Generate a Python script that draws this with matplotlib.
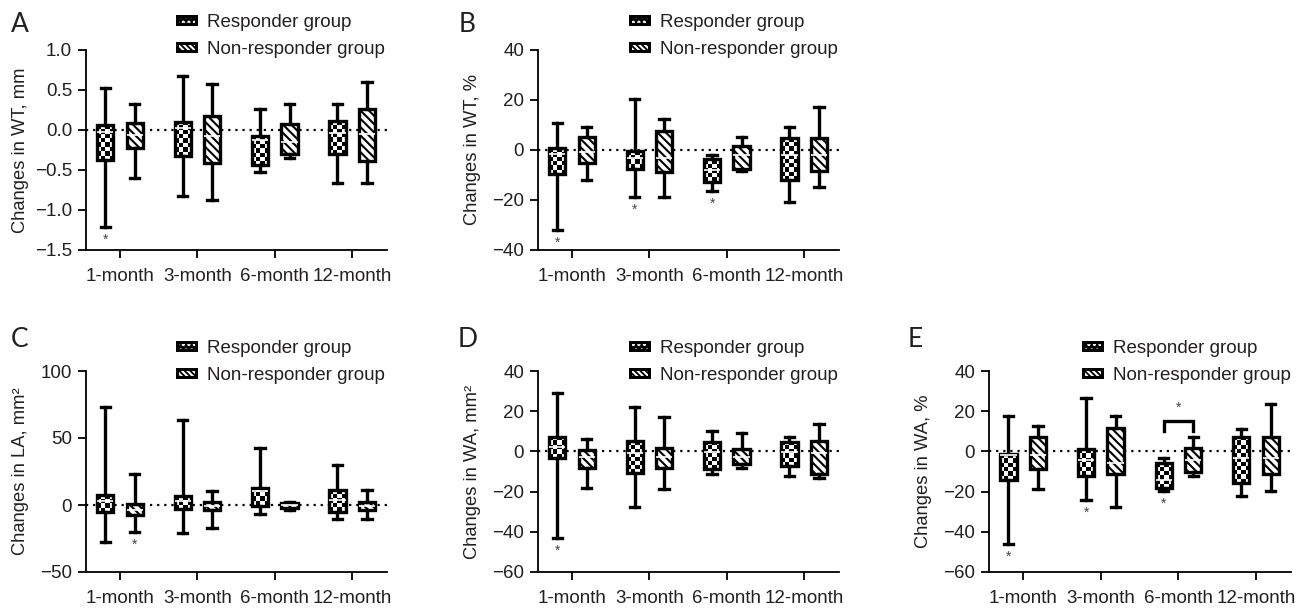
import numpy as np
import matplotlib
matplotlib.use("Agg")
import matplotlib.pyplot as plt
from matplotlib.patches import Patch, Rectangle
from matplotlib.legend_handler import HandlerBase

months = ["1-month", "3-month", "6-month", "12-month"]
group_names = ["Responder group", "Non-responder group"]

# each row: (lower whisker, Q1, median, Q3, upper whisker), one row per month
wt_mm_resp = [(-1.21, -0.375, -0.02, 0.06, 0.52), (-0.82, -0.33, 0.03, 0.10, 0.68),
              (-0.53, -0.44, -0.12, -0.08, 0.26), (-0.66, -0.30, -0.04, 0.11, 0.32)]
wt_mm_non = [(-0.60, -0.22, -0.06, 0.09, 0.32), (-0.88, -0.41, -0.08, 0.17, 0.57),
             (-0.35, -0.30, -0.15, 0.075, 0.32), (-0.66, -0.39, -0.05, 0.26, 0.60)]

wt_pct_resp = [(-32, -9.6, -1.5, 0.7, 10.9), (-19, -7.7, -3.3, -0.4, 20.3),
               (-16.3, -12.7, -8, -3.6, -2), (-21, -12, -2, 4.7, 9.1)]
wt_pct_non = [(-12, -5.3, -0.7, 5.1, 9.1), (-19, -8.9, -3.3, 7.7, 12.3),
              (-8.3, -7.6, -2, 1.7, 5.3), (-15, -8.3, -2, 4.7, 17.1)]

la_resp = [(-27.6, -5.2, 2.8, 7.3, 73.3), (-20.6, -2.7, 2.8, 6.6, 63.4),
           (-6.4, -0.9, 10.5, 12.8, 42.2), (-10.6, -5.2, 3.6, 11.5, 29.7)]
la_non = [(-20.1, -7.6, -3.4, 0.6, 23.5), (-17.1, -3.9, -0.9, 2.3, 10.5),
          (-3.4, -1.9, -0.2, 1.8, 2.3), (-10.1, -3.9, -0.7, 2.3, 11.5)]

wa_mm_resp = [(-43, -3.5, 2, 7.3, 28.9), (-27.6, -10.7, -1, 5.1, 21.9),
              (-11.3, -8.8, -0.2, 4.8, 10.1), (-12.3, -7.2, -0.2, 4.8, 7.3)]
wa_mm_non = [(-18.1, -8.2, -2.7, 0.6, 6.4), (-18.8, -8.5, -2.7, 1.5, 17.2),
             (-8.2, -6.5, -2.7, 1.1, 9.4), (-13.2, -11, -1, 5.1, 13.4)]

wa_pct_resp = [(-46.2, -14, -2, -1.4, 17.6), (-24.3, -12.2, -4.4, 1.1, 26.7),
               (-19.6, -18.1, -14.3, -6, -3.2), (-22.3, -15.6, -3.5, 7.3, 10.9)]
wa_pct_non = [(-18.5, -9, -1.9, 7.3, 12.8), (-27.6, -11.3, -6, 11.4, 17.6),
              (-12.3, -10.2, -4.4, 1.8, 7), (-19.6, -11.3, -3.2, 7.3, 23.6)]

# significance marks: (month index, group index 0=responder 1=non-responder)
stars_a = [(0, 0)]
stars_b = [(0, 0), (1, 0), (2, 0)]
stars_c = [(0, 1)]
stars_d = [(0, 0)]
stars_e = [(0, 0), (1, 0), (2, 0)]

TEXT = "#231f20"
W, H = 1311, 608
plt.rcParams["font.family"] = ["Liberation Sans", "DejaVu Sans"]
plt.rcParams["hatch.linewidth"] = 1.5
plt.rcParams["text.color"] = TEXT

fig = plt.figure(figsize=(W / 100, H / 100), dpi=100)

OFFSET = 0.19
BOX_W = 0.21
LW = 2.4


def add_checker(ax, box, square_px=4.2):
    verts = box.get_path().vertices
    x0, x1 = verts[:, 0].min(), verts[:, 0].max()
    y0, y1 = verts[:, 1].min(), verts[:, 1].max()
    p0 = ax.transData.transform((x0, y0))
    p1 = ax.transData.transform((x1, y1))
    nx = max(1, int(round(abs(p1[0] - p0[0]) / square_px)))
    ny = max(1, int(round(abs(p1[1] - p0[1]) / square_px)))
    grid = np.add.outer(np.arange(ny), np.arange(nx)) % 2
    im = ax.imshow(grid, cmap="gray", vmin=0, vmax=1, extent=(x0, x1, y0, y1),
                   origin="upper", aspect="auto", interpolation="nearest", zorder=2.5)
    im.set_clip_path(box)


def draw_group(ax, data, positions, responder):
    stats = [dict(whislo=d[0], q1=d[1], med=d[2], q3=d[3], whishi=d[4], fliers=[])
             for d in data]
    bp = ax.bxp(stats, positions=positions, widths=BOX_W, capwidths=0.12,
                patch_artist=True, showfliers=False, manage_ticks=False, zorder=3,
                boxprops=dict(facecolor="none" if responder else "white",
                              edgecolor="black", linewidth=LW,
                              hatch=None if responder else "\\\\\\\\"),
                whiskerprops=dict(color="black", linewidth=LW),
                capprops=dict(color="black", linewidth=LW),
                medianprops=dict(color="white", linewidth=1.2))
    if responder:
        for box in bp["boxes"]:
            add_checker(ax, box)
    return bp


class BoxKey(HandlerBase):
    def create_artists(self, legend, orig_handle, xdescent, ydescent,
                       width, height, fontsize, trans):
        outer = Rectangle((-xdescent, -ydescent), width, height, facecolor="black",
                          edgecolor="none", transform=trans)
        inner = Rectangle((-xdescent + 2.2, -ydescent + 2.0), width - 4.4, height - 4.0,
                          facecolor="none", edgecolor="white", linewidth=0,
                          hatch=orig_handle.get_hatch(), transform=trans)
        return [outer, inner]


def make_panel(rect, letter, letter_xy, resp, non, ylabel, ylim, yticks, stars,
               legend_xy, bracket=False):
    left, right, top, bottom = rect
    ax = fig.add_axes([left / W, 1 - bottom / H, (right - left) / W, (bottom - top) / H])
    x_pos = np.arange(len(months))
    ax.set_xlim(-0.44, 3.45)
    ax.set_ylim(*ylim)
    ax.axhline(0, color="black", linestyle=(0, (1, 2.2)), linewidth=1.6, zorder=1)

    draw_group(ax, resp, x_pos - OFFSET, True)
    draw_group(ax, non, x_pos + OFFSET, False)

    span = ylim[1] - ylim[0]
    groups = [resp, non]
    for m, g in stars:
        low = groups[g][m][0]
        ax.text(x_pos[m] + (OFFSET if g else -OFFSET), low - 0.028 * span, "*",
                ha="center", va="top", fontsize=10, color="#444444")

    if bracket:
        m = 2
        y_top = max(resp[m][4], non[m][4]) + 8.0
        y_low = y_top - 5.0
        ax.plot([m - OFFSET, m - OFFSET, m + OFFSET, m + OFFSET],
                [y_low, y_top, y_top, y_low], color="black", linewidth=LW,
                solid_joinstyle="miter", zorder=3)
        ax.text(m, y_top + 3.0, "*", ha="center", va="bottom", fontsize=10,
                color="#444444")

    for side in ["top", "right"]:
        ax.spines[side].set_visible(False)
    for side in ["left", "bottom"]:
        ax.spines[side].set_linewidth(1.3)
    ax.set_xticks(x_pos)
    ax.set_xticklabels(months)
    ax.set_yticks(yticks)
    ax.tick_params(length=6, width=1.3, labelsize=13.5, labelcolor=TEXT)
    ax.tick_params(axis="x", pad=7)
    ax.tick_params(axis="y", pad=4)
    ax.set_ylabel(ylabel, fontsize=13.2, color=TEXT)
    ax.yaxis.set_label_coords(-0.19, 0.5)

    handles = [Patch(hatch="...", label=group_names[0]),
               Patch(hatch="\\\\\\\\\\\\", label=group_names[1])]
    ax.legend(handles=handles, loc="upper left",
              bbox_to_anchor=(legend_xy[0] / W, 1 - legend_xy[1] / H),
              bbox_transform=fig.transFigure, frameon=False, fontsize=13.5,
              handlelength=1.15, handleheight=0.5, handletextpad=0.5,
              labelspacing=0.55, borderpad=0, borderaxespad=0,
              handler_map={Patch: BoxKey()})

    fig.text(letter_xy[0] / W, 1 - letter_xy[1] / H, letter, fontsize=19,
             family=["Lato", "DejaVu Sans"], ha="left", va="baseline", color=TEXT)
    return ax


make_panel((86, 387, 50, 250), "A", (11, 32), wt_mm_resp, wt_mm_non,
           "Changes in WT, mm", (-1.5, 1.0), np.arange(-1.5, 1.01, 0.5), stars_a,
           (176, 14))
make_panel((538, 839, 50, 250), "B", (459, 32), wt_pct_resp, wt_pct_non,
           "Changes in WT, %", (-40, 40), np.arange(-40, 41, 20), stars_b,
           (629, 14))
make_panel((86, 387, 371, 572), "C", (11, 347), la_resp, la_non,
           "Changes in LA, mm²", (-50, 100), [-50, 0, 50, 100], stars_c,
           (176, 340))
make_panel((538, 839, 371, 572), "D", (458, 347), wa_mm_resp, wa_mm_non,
           "Changes in WA, mm²", (-60, 40), np.arange(-60, 41, 20), stars_d,
           (629, 340))
make_panel((989, 1291, 371, 572), "E", (908, 347), wa_pct_resp, wa_pct_non,
           "Changes in WA, %", (-60, 40), np.arange(-60, 41, 20), stars_e,
           (1082, 340), bracket=True)

fig.savefig("out.png", dpi=100)
